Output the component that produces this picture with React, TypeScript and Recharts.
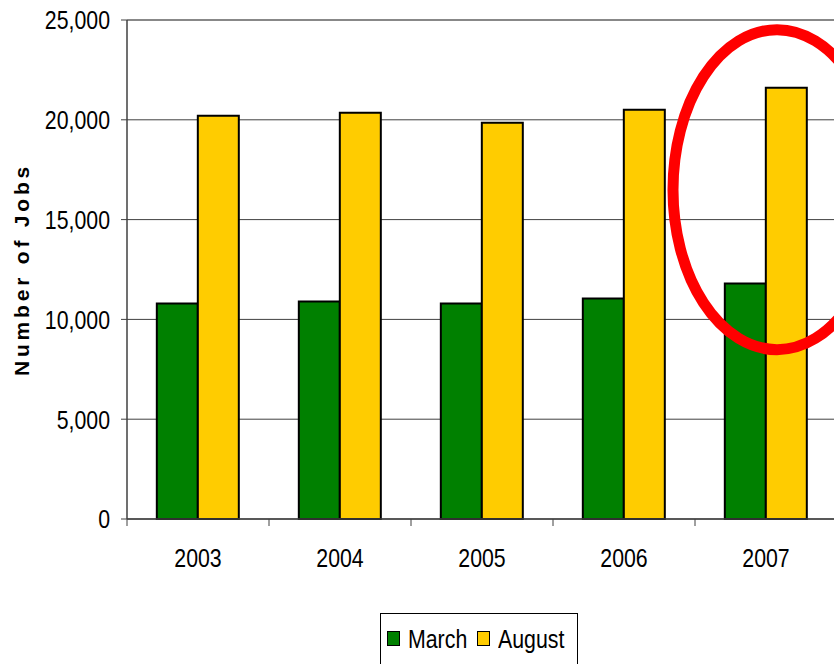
import {
  BarChart,
  Bar,
  XAxis,
  YAxis,
  CartesianGrid,
  ReferenceLine,
  ReferenceDot,
} from 'recharts';

const years = ['2003', '2004', '2005', '2006', '2007'];
const march = [10800, 10900, 10800, 11050, 11800];
const august = [20200, 20350, 19850, 20500, 21600];
const yTicks = [0, 5000, 10000, 15000, 20000, 25000];

const COLORS = {
  march: '#008000',
  august: '#FFCC00',
  ring: '#FF0000',
  grid: '#404040',
  top: '#888888',
  text: '#000000',
};

const FONT = "'Liberation Sans', Arial, sans-serif";
// no Arial Narrow installed, so squeeze the regular face
const NARROW = 0.82;

const data = years.map((year, i) => ({
  year,
  march: march[i],
  august: august[i],
}));

const fmt = (v: number) => v.toLocaleString('en-US');

function XTick(props: any) {
  const { x, y, payload } = props;
  const half = payload.offset || 0;
  return (
    <g>
      <line x1={x - half} y1={y - 8} x2={x - half} y2={y - 1} stroke={COLORS.grid} strokeWidth={1} />
      <text
        transform={`translate(${x} ${y + 40}) scale(${NARROW} 1)`}
        textAnchor='middle'
        fontSize={26}
        fontFamily={FONT}
        fill={COLORS.text}
      >
        {payload.value}
      </text>
    </g>
  );
}

function YTick(props: any) {
  const { x, y, payload } = props;
  return (
    <text
      transform={`translate(${x} ${y}) scale(${NARROW} 1)`}
      textAnchor='end'
      dy='0.36em'
      fontSize={26}
      fontFamily={FONT}
      fill={COLORS.text}
    >
      {fmt(payload.value)}
    </text>
  );
}

function YTitle(props: any) {
  const { viewBox } = props;
  const cx = viewBox.x + 21;
  const cy = viewBox.y + viewBox.height / 2;
  return (
    <text
      x={cx}
      y={cy}
      transform={`rotate(-90 ${cx} ${cy})`}
      textAnchor='middle'
      dominantBaseline='central'
      fontSize={21}
      fontWeight='bold'
      letterSpacing={3.8}
      fontFamily={FONT}
      fill={COLORS.text}
    >
      Number of Jobs
    </text>
  );
}

function Ring(props: any) {
  const { cx, cy } = props;
  return (
    <ellipse
      cx={cx + 11}
      cy={cy}
      rx={104}
      ry={160}
      fill='none'
      stroke={COLORS.ring}
      strokeWidth={11}
    />
  );
}

const textStyle = {
  position: 'absolute' as const,
  top: 10,
  fontFamily: FONT,
  fontSize: 26,
  lineHeight: '30px',
  color: COLORS.text,
  transform: `scaleX(${NARROW})`,
  transformOrigin: 'left center',
  whiteSpace: 'nowrap' as const,
};

const swatch = (color: string, left: number) => ({
  position: 'absolute' as const,
  left,
  top: 17,
  width: 11,
  height: 13,
  background: color,
  border: '1.5px solid #000',
});

function LegendBox() {
  return (
    <div
      style={{
        position: 'absolute',
        left: 380,
        top: 613,
        width: 198,
        height: 60,
        border: '1px solid #000',
        boxSizing: 'border-box',
        background: '#fff',
      }}
    >
      <span style={swatch(COLORS.march, 6)} />
      <span style={{ ...textStyle, left: 27 }}>March</span>
      <span style={swatch(COLORS.august, 96)} />
      <span style={{ ...textStyle, left: 117 }}>August</span>
    </div>
  );
}

export default function App() {
  return (
    <div
      style={{
        position: 'absolute',
        left: 0,
        top: 0,
        width: 834,
        height: 664,
        overflow: 'hidden',
        background: '#fff',
      }}
    >
      <BarChart
        width={858}
        height={664}
        data={data}
        margin={{ top: 20, right: 21, bottom: 0, left: 0 }}
        barCategoryGap='21%'
        barGap={0}
      >
        <CartesianGrid vertical={false} stroke={COLORS.grid} strokeWidth={1} />
        <XAxis
          dataKey='year'
          height={145}
          tickLine={false}
          axisLine={{ stroke: COLORS.grid, strokeWidth: 1.5 }}
          tick={<XTick />}
          interval={0}
        />
        <YAxis
          width={127}
          domain={[0, 25000]}
          ticks={yTicks}
          tickSize={6}
          tickMargin={11}
          axisLine={{ stroke: COLORS.grid, strokeWidth: 1.5 }}
          tickLine={{ stroke: COLORS.grid }}
          tick={<YTick />}
          label={<YTitle />}
        />
        <ReferenceLine y={25000} stroke={COLORS.top} strokeWidth={2} />
        <Bar dataKey='march' name='March' fill={COLORS.march} stroke='#000' strokeWidth={2} isAnimationActive={false} />
        <Bar dataKey='august' name='August' fill={COLORS.august} stroke='#000' strokeWidth={2} isAnimationActive={false} />
        <ReferenceDot x='2007' y={16500} r={1} ifOverflow='visible' shape={<Ring />} />
      </BarChart>
      <LegendBox />
    </div>
  );
}
